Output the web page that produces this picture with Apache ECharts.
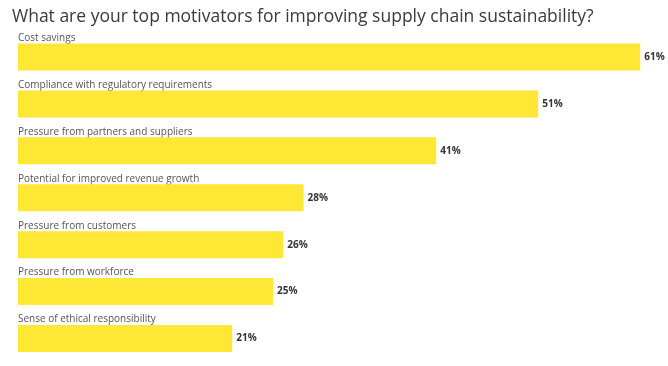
<!DOCTYPE html>
<html><head><meta charset="utf-8">
<script src="https://cdn.jsdelivr.net/npm/echarts@6/dist/echarts.min.js"></script>
<style>html,body{margin:0;padding:0;background:#fff}#c{width:668px;height:366px}</style>
</head><body><div id="c"></div>
<script>
const titleText = "What are your top motivators for improving supply chain sustainability?";
const categories = [
  "Cost savings",
  "Compliance with regulatory requirements",
  "Pressure from partners and suppliers",
  "Potential for improved revenue growth",
  "Pressure from customers",
  "Pressure from workforce",
  "Sense of ethical responsibility"
];
const values = [61, 51, 41, 28, 26, 25, 21];

const chart = echarts.init(document.getElementById('c'));
chart.setOption({
  animation: false,
  title: {
    text: titleText, left: 7, top: 3,
    textStyle: {fontFamily: 'Open Sans', fontWeight: 'normal', fontSize: 17.5, color: '#3a3a3a'}
  },
  grid: {left: 18, width: 632.4, top: 33.5, bottom: 4},
  xAxis: {type: 'value', min: 0, max: 62, show: false},
  yAxis: {
    type: 'category', data: categories, inverse: true,
    axisLine: {show: false}, axisTick: {show: false}, splitLine: {show: false},
    axisLabel: {
      inside: true, margin: 0, verticalAlign: 'bottom', padding: [0, 0, 14, 0],
      fontFamily: 'Open Sans', fontSize: 10, color: '#555'
    }
  },
  series: [{
    type: 'bar', data: values, barWidth: 27,
    itemStyle: {color: '#ffe736'},
    label: {
      show: true, position: 'right', distance: 4,
      formatter: p => p.value + '%',
      fontFamily: 'Open Sans', fontWeight: 'bold', fontSize: 10, color: '#333'
    }
  }]
});
</script></body></html>
